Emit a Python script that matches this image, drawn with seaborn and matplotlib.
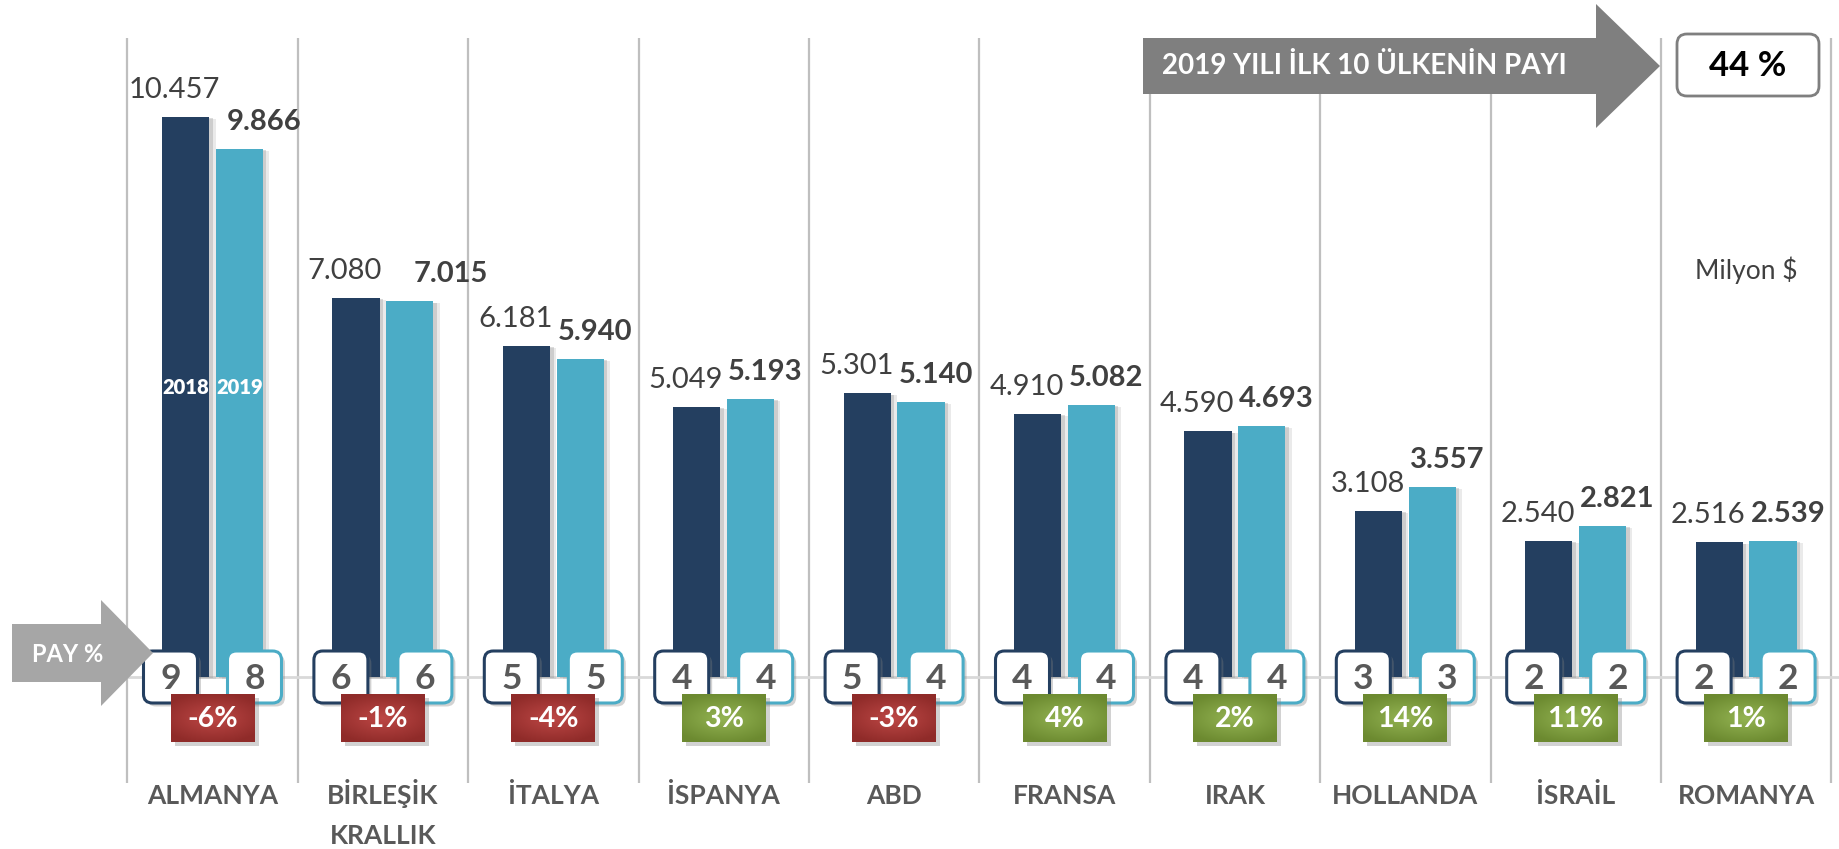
import matplotlib
matplotlib.use("Agg")
import matplotlib.pyplot as plt
import seaborn as sns
import numpy as np
import pandas as pd
from matplotlib.patches import FancyBboxPatch, Polygon, Rectangle
from matplotlib.colors import LinearSegmentedColormap
from matplotlib import patheffects as pe

# ---- data -------------------------------------------------------------
countries = ["ALMANYA", "BİRLEŞİK\nKRALLIK", "İTALYA", "İSPANYA", "ABD",
             "FRANSA", "IRAK", "HOLLANDA", "İSRAİL", "ROMANYA"]
years = ["2018", "2019"]
exports_2018 = [10457, 7080, 6181, 5049, 5301, 4910, 4590, 3108, 2540, 2516]
exports_2019 = [9866, 7015, 5940, 5193, 5140, 5082, 4693, 3557, 2821, 2539]
share_2018 = [9, 6, 5, 4, 5, 4, 4, 3, 2, 2]
share_2019 = [8, 6, 5, 4, 4, 4, 4, 3, 2, 2]
change_pct = [-6, -1, -4, 3, -3, 4, 2, 14, 11, 1]
top10_share = 44
top10_title = "2019 YILI İLK 10 ÜLKENİN PAYI"
unit_label = "Milyon $"
share_label = "PAY %"

# ---- style ------------------------------------------------------------
sns.set_theme(style="white")
plt.rcParams["font.family"] = ["Lato", "DejaVu Sans"]

C18 = "#243F60"
C19 = "#4BACC6"
TXT = "#404040"
LBL = "#595959"
RED_CMAP = LinearSegmentedColormap.from_list("red_box", ["#BD4745", "#8F2B29"])
GREEN_CMAP = LinearSegmentedColormap.from_list("green_box", ["#94B453", "#6C8A30"])

W, H = 1840, 849
fig = plt.figure(figsize=(W / 100, H / 100), dpi=100)
fig.patch.set_facecolor("white")

# back layer (grid), bar layer, front layer (annotations) -- all full-figure
back = fig.add_axes([0, 0, 1, 1], zorder=0)
ax = fig.add_axes([0, 0, 1, 1], zorder=1)
front = fig.add_axes([0, 0, 1, 1], zorder=2)
for a in (back, front):
    a.set_xlim(0, W)
    a.set_ylim(H, 0)
    a.axis("off")
    a.patch.set_alpha(0)
ax.patch.set_alpha(0)

df = pd.DataFrame({
    "country": countries * 2,
    "year": [years[0]] * len(countries) + [years[1]] * len(countries),
    "value": exports_2018 + exports_2019,
})
sns.barplot(data=df, x="country", y="value", hue="year", order=countries,
            hue_order=years, palette={years[0]: C18, years[1]: C19},
            width=0.63, gap=0.12, saturation=1, errorbar=None, legend=False,
            ax=ax)

# category slot = 170.4 px, first slot centred at 212.5 px, zero at 677 px from top
slot, x0, base_px, scale = 170.4, 212.5, 677, 10457 / 560
ax.set_xlim(-x0 / slot, (W - x0) / slot)
ax.set_ylim(-(H - base_px) * scale, base_px * scale)
ax.axis("off")

for p in ax.patches:
    p.set_linewidth(0)
    p.set_path_effects([
        pe.SimplePatchShadow(offset=(4.5, -1.5), shadow_rgbFace="#8c8c8c", alpha=0.18),
        pe.SimplePatchShadow(offset=(2.5, -1), shadow_rgbFace="#8c8c8c", alpha=0.3),
        pe.Normal()])

fig.canvas.draw()


def to_px(x, y=0.0):
    """Bar-axes data coordinates -> pixel coordinates of the overlay layers."""
    return front.transData.inverted().transform(ax.transData.transform((x, y)))


# vertical separators and zero line
for i in range(len(countries) + 1):
    xs = to_px(i - 0.5)[0]
    back.plot([xs, xs], [38, 783], color="#BFBFBF", lw=1.6, solid_capstyle="butt")
back.plot([to_px(-0.5)[0], W], [base_px, base_px], color="#D9D9D9", lw=2)

# value labels above bars
nudge_2019 = {0: 10, 1: 26}
for k, (cont, vals) in enumerate(zip(ax.containers, (exports_2018, exports_2019))):
    for i, (bar, v) in enumerate(zip(cont, vals)):
        cx = bar.get_x() + bar.get_width() / 2
        px, py = to_px(cx, bar.get_height())
        if k == 0:
            front.text(px - 11, py - 19, f"{v / 1000:.3f}", ha="center", va="baseline",
                       fontsize=21, fontweight="normal", color=TXT)
        else:
            front.text(px + 15 + nudge_2019.get(i, 0), py - 19, f"{v / 1000:.3f}",
                       ha="center", va="baseline", fontsize=21, fontweight="bold",
                       color=TXT)

# year captions inside the first pair of bars
for cont, yr in zip(ax.containers, years):
    bar = cont[0]
    px = to_px(bar.get_x() + bar.get_width() / 2)[0]
    front.text(px, 387, yr, ha="center", va="center", fontsize=14.5,
               fontweight="heavy", color="white")

box_shadow = [pe.SimplePatchShadow(offset=(2.5, -2.5), shadow_rgbFace="#7f7f7f", alpha=0.35),
              pe.Normal()]

# share boxes on the zero line
for i, (s18, s19) in enumerate(zip(share_2018, share_2019)):
    cx = to_px(i)[0]
    for dx, val, col in ((-42, s18, C18), (42, s19, C19)):
        bw, bh = 54, 52
        box = FancyBboxPatch((cx + dx - bw / 2, base_px - bh / 2), bw, bh,
                             boxstyle="round,pad=0,rounding_size=9",
                             facecolor="white", edgecolor=col, lw=2.2)
        box.set_path_effects(box_shadow)
        front.add_patch(box)
        front.text(cx + dx, base_px + 2, str(val), ha="center", va="center",
                   fontsize=25.5, fontweight="bold", color=LBL)

# yearly change boxes, shaded from the centre outwards
gy, gx = np.mgrid[-1:1:48j, -1:1:84j]
shade = np.clip(np.sqrt((gx * 0.9) ** 2 + (gy * 1.1) ** 2) / 1.2, 0, 1)
for i, ch in enumerate(change_pct):
    cx = to_px(i)[0]
    bw, bh, cy = 84, 48, 718
    shadow = Rectangle((cx - bw / 2 + 4, cy - bh / 2 + 4), bw, bh,
                       facecolor="#7f7f7f", alpha=0.35, edgecolor="none")
    front.add_patch(shadow)
    front.imshow(shade, cmap=RED_CMAP if ch < 0 else GREEN_CMAP, vmin=0, vmax=1,
                 extent=(cx - bw / 2, cx + bw / 2, cy + bh / 2, cy - bh / 2),
                 aspect="auto", interpolation="bilinear", zorder=2)
    front.text(cx, cy + 1, f"{ch}%", ha="center", va="center", fontsize=20.5,
               fontweight="bold", color="white", zorder=3)
front.set_xlim(0, W)
front.set_ylim(H, 0)

# category names (first line baseline shared by all)
for i, name in enumerate(countries):
    for j, line in enumerate(name.split("\n")):
        front.text(to_px(i)[0], 804 + 40 * j, line, ha="center", va="baseline",
                   fontsize=19, fontweight="bold", color=LBL)

# "PAY %" arrow
front.add_patch(Polygon([(12, 624), (101, 624), (101, 600), (153, 653),
                         (101, 706), (101, 682), (12, 682)],
                        closed=True, facecolor="#A6A6A6", edgecolor="none"))
front.text(68, 654, share_label, ha="center", va="center", fontsize=17,
           fontweight="bold", color="white")

# top-ten share arrow and box
front.add_patch(Polygon([(1143, 38), (1596, 38), (1596, 4), (1660, 66),
                         (1596, 128), (1596, 94), (1143, 94)],
                        closed=True, facecolor="#7F7F7F", edgecolor="none"))
front.text(1162, 66, top10_title, ha="left", va="center", fontsize=20,
           fontweight="bold", color="white")
front.add_patch(FancyBboxPatch((1677, 34), 142, 62,
                               boxstyle="round,pad=0,rounding_size=10",
                               facecolor="white", edgecolor="#7F7F7F", lw=2))
front.text(1748, 66, f"{top10_share} %", ha="center", va="center", fontsize=25,
           fontweight="bold", color="black")

front.text(1746, 270, unit_label, ha="center", va="center", fontsize=19,
           color=TXT)

fig.savefig("out.png", dpi=100, facecolor="white")
